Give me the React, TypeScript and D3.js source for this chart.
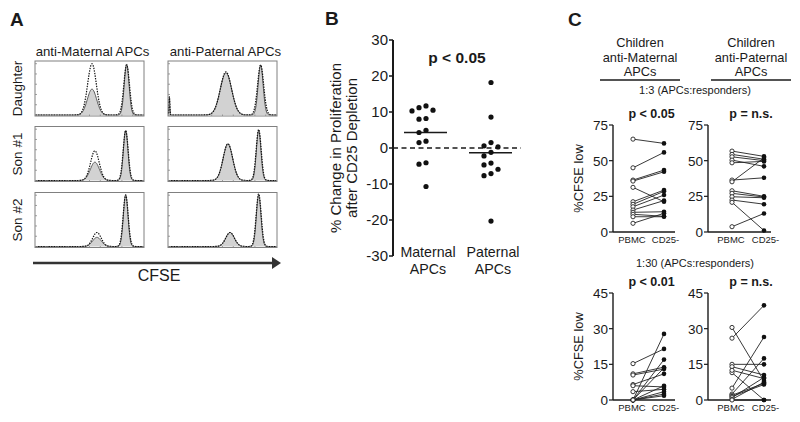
import React from 'react';
import * as d3 from 'd3';

const FONT = '"Liberation Sans", Arial, Helvetica, sans-serif';
const INK = '#1a1a1a';

// ---------------- Panel A data ----------------
const histColTitles = ['anti-Maternal APCs', 'anti-Paternal APCs'];
const histRowTitles = ['Daughter', 'Son #1', 'Son #2'];
// each curve: list of peaks [CFSE channel (0-100), relative count (0-1), spread]
const histSolid = [
  [[[52.3, 0.48, 4.3], [84.4, 0.95, 2.2]], [[0.8, 0.4, 0.35], [53.2, 0.78, 5.3], [85.3, 0.93, 2.3]]],
  [[[55.0, 0.34, 4.2], [83.5, 0.93, 2.1]], [[55.0, 0.68, 4.4], [83.5, 0.93, 2.1]]],
  [[[56.9, 0.17, 4.0], [83.5, 0.96, 2.1]], [[57.0, 0.26, 4.0], [83.5, 0.96, 2.1]]],
];
const histDotted = [
  [[[52.3, 0.95, 4.0], [84.4, 0.93, 2.6]], [[0.8, 0.4, 0.35], [53.2, 0.8, 5.2], [85.3, 0.93, 2.8]]],
  [[[55.0, 0.55, 4.0], [83.5, 0.93, 2.3]], [[55.0, 0.68, 4.4], [83.5, 0.95, 2.3]]],
  [[[56.9, 0.26, 3.9], [83.5, 0.96, 2.3]], [[57.0, 0.26, 4.0], [83.5, 0.98, 2.3]]],
];
const histAxisLabel = 'CFSE';

// ---------------- Panel B data ----------------
const bCategories = [['Maternal', 'APCs'], ['Paternal', 'APCs']];
const bMaternal = [11.7, 11.2, 10.5, 10.3, 8.2, 8.0, 4.9, 4.3, 1.9, 1.5, -4.1, -4.5, -10.7];
const bPaternal = [18.2, 8.6, 1.5, 0.6, 0.3, -1.2, -2.2, -4.2, -4.7, -5.9, -7.1, -7.7, -20.3];
const bCenterLines = [4.3, -1.3];
const bTicks = [30, 20, 10, 0, -10, -20, -30];
const bYLabel = ['% Change in Proliferation', 'after CD25 Depletion'];
const bPValue = 'p < 0.05';

// ---------------- Panel C data ----------------
const cHeaders = [['Children', 'anti-Maternal', 'APCs'], ['Children', 'anti-Paternal', 'APCs']];
const cRatios = ['1:3 (APCs:responders)', '1:30 (APCs:responders)'];
const cConditions = ['PBMC', 'CD25-'];
const cUpperTicks = [0, 25, 50, 75];
const cLowerTicks = [0, 15, 30, 45];
const cUpperP = ['p < 0.05', 'p = n.s.'];
const cLowerP = ['p < 0.01', 'p = n.s.'];
const cUpperMatPBMC = [65.1, 45.0, 36.4, 35.7, 31.3, 21.2, 19.4, 17.7, 15.4, 13.8, 12.4, 10.7, 6.1];
const cUpperMatCD25 = [62.1, 55.8, 43.4, 42.2, 21.2, 29.4, 28.5, 25.9, 22.0, 14.2, 11.0, 10.7, 13.1];
const cUpperPatPBMC = [56.7, 54.4, 52.7, 50.4, 48.5, 36.4, 35.2, 28.9, 27.1, 24.7, 22.4, 20.8, 3.7];
const cUpperPatCD25 = [53.0, 51.0, 50.0, 46.0, 49.5, 38.0, 52.0, 25.0, 24.5, 24.0, 19.5, 1.0, 13.0];
const cLowerMatPBMC = [15.3, 11.0, 10.5, 6.5, 6.0, 3.5, 0, 0, 0, 0, 0, 0, 0];
const cLowerMatCD25 = [21.5, 13.8, 13.0, 11.0, 5.5, 4.5, 27.8, 17.0, 13.5, 6.0, 3.5, 2.5, 1.8];
const cLowerPatPBMC = [30.5, 26.0, 15.0, 14.0, 11.5, 12.5, 5.0, 2.5, 2.0, 1.5, 1.0, 0.3, 0];
const cLowerPatCD25 = [8.0, 39.8, 15.0, 10.5, 0, 9.0, 26.5, 17.5, 7.0, 6.5, 9.5, 7.5, 0];
const cYLabel = '%CFSE low';

// ---------------- helpers ----------------
const channels = d3.range(0, 100.001, 0.4);
function density(peaks: number[][], x: number) {
  let s = 0;
  for (const [c, h, w] of peaks) s += h * Math.exp(-((x - c) ** 2) / (2 * w * w));
  return s;
}

function Histogram({ x, y, w, h, solid, dotted }: any) {
  const sx = d3.scaleLinear().domain([0, 100]).range([x + 0.5, x + w - 0.5]);
  const sy = d3.scaleLinear().domain([0, 1]).range([y + h - 1, y]);
  const area = d3
    .area<number>()
    .x((d) => sx(d))
    .y0(sy(0))
    .y1((d) => sy(density(solid, d)))
    .curve(d3.curveBasis);
  const lineSolid = d3
    .line<number>()
    .x((d) => sx(d))
    .y((d) => sy(density(solid, d)))
    .curve(d3.curveBasis);
  const lineDot = d3
    .line<number>()
    .x((d) => sx(d))
    .y((d) => sy(density(dotted, d)))
    .curve(d3.curveBasis);
  const leftTicks = d3.range(0, 1.01, 0.2);
  const botTicks = d3.range(0, 100.1, 10);
  return (
    <g>
      <path d={area(channels) || ''} fill="#d2d2d2" stroke="none" />
      <path d={lineSolid(channels) || ''} fill="none" stroke="#4a4a4a" strokeWidth={0.9} />
      <path d={lineDot(channels) || ''} fill="none" stroke="#111" strokeWidth={1.2} strokeDasharray="1.4,1.2" />
      <rect x={x} y={y} width={w} height={h} fill="none" stroke="#808080" strokeWidth={1} />
      {leftTicks.map((t, i) => (
        <line key={'l' + i} x1={x} x2={x + 2} y1={sy(t * 0.95)} y2={sy(t * 0.95)} stroke="#888" strokeWidth={0.8} />
      ))}
      {botTicks.map((t, i) => (
        <line key={'b' + i} x1={sx(t)} x2={sx(t)} y1={y + h} y2={y + h - 1.5} stroke="#888" strokeWidth={0.8} />
      ))}
    </g>
  );
}

function jitter(values: number[], cx: number, ys: (v: number) => number, step: number, minDist: number) {
  const order = values.map((v, i) => i).sort((a, b) => values[b] - values[a]);
  const placed: { x: number; y: number }[] = [];
  const out: { x: number; y: number }[] = new Array(values.length);
  const slots = [0, -1, 1, -2, 2, -3, 3];
  for (const i of order) {
    const py = ys(values[i]);
    let chosen = cx;
    for (const s of slots) {
      const px = cx + s * step;
      if (placed.every((p) => Math.hypot(p.x - px, p.y - py) >= minDist)) {
        chosen = px;
        break;
      }
    }
    placed.push({ x: chosen, y: py });
    out[i] = { x: chosen, y: py };
  }
  return out;
}

function PairPlot({ axisX, endX, pbmcX, cdX, yTop, yBottom, ticks, pbmc, cd25, pText, yLabel }: any) {
  const maxV = ticks[ticks.length - 1];
  const ys = d3.scaleLinear().domain([0, maxV]).range([yBottom, yTop]);
  const xs = d3.scalePoint<string>().domain(cConditions).range([pbmcX, cdX]);
  return (
    <g fontFamily={FONT}>
      <text x={(pbmcX + cdX) / 2 + 3} y={yTop - 7} textAnchor="middle" fontSize={12.5} fontWeight="bold" fill={INK}>
        {pText}
      </text>
      <line x1={axisX} x2={axisX} y1={yTop} y2={yBottom} stroke={INK} strokeWidth={1.4} />
      <line x1={axisX} x2={endX} y1={yBottom} y2={yBottom} stroke={INK} strokeWidth={1.4} />
      {ticks.map((t: number) => (
        <g key={t}>
          <line x1={axisX - 4} x2={axisX} y1={ys(t)} y2={ys(t)} stroke={INK} strokeWidth={1.2} />
          <text x={axisX - 5} y={ys(t)} dy="0.36em" textAnchor="end" fontSize={13.5} fill={INK}>
            {t}
          </text>
        </g>
      ))}
      {cConditions.map((c, i) => (
        <text key={c} x={xs(c)! + (i === 0 ? -1 : 1.5)} y={yBottom + 10.5} textAnchor="middle" fontSize={9.5} fill={INK}>
          {c}
        </text>
      ))}
      {pbmc.map((v: number, i: number) => (
        <line key={'ln' + i} x1={xs(cConditions[0])} x2={xs(cConditions[1])} y1={ys(v)} y2={ys(cd25[i])} stroke="#222" strokeWidth={0.9} />
      ))}
      {pbmc.map((v: number, i: number) => (
        <circle key={'o' + i} cx={xs(cConditions[0])} cy={ys(v)} r={2.1} fill="#fff" stroke="#222" strokeWidth={0.9} />
      ))}
      {cd25.map((v: number, i: number) => (
        <circle key={'f' + i} cx={xs(cConditions[1])} cy={ys(v)} r={2.3} fill="#111" />
      ))}
      {yLabel && (
        <text
          transform={`translate(${axisX - 30},${(yTop + yBottom) / 2}) rotate(-90)`}
          textAnchor="middle"
          fontSize={12.8}
          fill={INK}
        >
          {yLabel}
        </text>
      )}
    </g>
  );
}

export default function App() {
  // Panel A layout
  const colX = [35, 168];
  const rowY = [61, 126.5, 192.5];
  const boxW = 109;
  const boxH = 55;

  // Panel B
  const yB = d3.scaleLinear().domain([-30, 30]).range([256, 40]);
  const bAxisX = 393;
  const bCenters = [426, 491];
  const matPts = jitter(bMaternal, bCenters[0], yB, 7, 6.2);
  const patPts = jitter(bPaternal, bCenters[1], yB, 7, 6.2);

  return (
    <svg width={800} height={422} style={{ position: 'absolute', left: 0, top: 0, background: '#fff' }} fontFamily={FONT}>
      <rect width={800} height={422} fill="#fff" />
      {/* ---------- Panel A ---------- */}
      <text x={10} y={26} fontSize={19} fontWeight="bold" fill={INK}>A</text>
      {histColTitles.map((t, c) => (
        <text key={t} x={colX[c] + boxW / 2 + 3} y={56} textAnchor="middle" fontSize={13.2} fill={INK}>
          {t}
        </text>
      ))}
      {histRowTitles.map((t, r) => (
        <text
          key={t}
          transform={`translate(22,${rowY[r] + boxH / 2}) rotate(-90)`}
          textAnchor="middle"
          fontSize={13.5}
          fill={INK}
        >
          {t}
        </text>
      ))}
      {histRowTitles.map((_, r) =>
        histColTitles.map((__, c) => (
          <Histogram
            key={r + '-' + c}
            x={colX[c]}
            y={rowY[r]}
            w={boxW}
            h={boxH}
            solid={histSolid[r][c]}
            dotted={histDotted[r][c]}
          />
        ))
      )}
      <line x1={33} x2={273} y1={263} y2={263} stroke="#333" strokeWidth={2.5} />
      <polygon points="272,257 281,263 272,269" fill="#333" />
      <text x={159} y={281} textAnchor="middle" fontSize={16} fill={INK}>{histAxisLabel}</text>

      {/* ---------- Panel B ---------- */}
      <text x={325} y={25} fontSize={19} fontWeight="bold" fill={INK}>B</text>
      <line x1={bAxisX} x2={bAxisX} y1={yB(30)} y2={yB(-30)} stroke={INK} strokeWidth={2} />
      {bTicks.map((t) => (
        <g key={t}>
          <line x1={bAxisX - 4} x2={bAxisX} y1={yB(t)} y2={yB(t)} stroke={INK} strokeWidth={1.5} />
          <text x={bAxisX - 5} y={yB(t)} dy="0.36em" textAnchor="end" fontSize={15} fill={INK}>
            {t}
          </text>
        </g>
      ))}
      <line x1={bAxisX} x2={521} y1={yB(0)} y2={yB(0)} stroke={INK} strokeWidth={1.4} strokeDasharray="5,3.5" />
      <text x={457} y={63} textAnchor="middle" fontSize={15.5} fontWeight="bold" fill={INK}>{bPValue}</text>
      {bYLabel.map((t, i) => (
        <text
          key={t}
          transform={`translate(${341 + i * 15.5},148) rotate(-90)`}
          textAnchor="middle"
          fontSize={15}
          fill={INK}
        >
          {t}
        </text>
      ))}
      {bCenterLines.map((v, i) => (
        <line key={i} x1={bCenters[i] - 22} x2={bCenters[i] + 21} y1={yB(v)} y2={yB(v)} stroke={INK} strokeWidth={1.4} />
      ))}
      {[matPts, patPts].map((pts, k) =>
        pts.map((p, i) => <circle key={k + '-' + i} cx={p.x} cy={p.y} r={2.6} fill="#111" />)
      )}
      {bCategories.map((lines, i) =>
        lines.map((t, j) => (
          <text key={i + '-' + j} x={bCenters[i] + 2} y={257 + j * 17} textAnchor="middle" fontSize={14.2} fill={INK}>
            {t}
          </text>
        ))
      )}

      {/* ---------- Panel C ---------- */}
      <text x={568} y={26} fontSize={19} fontWeight="bold" fill={INK}>C</text>
      {cHeaders.map((lines, i) => {
        const cx = i === 0 ? 640 : 751;
        return (
          <g key={i}>
            {lines.map((t, j) => (
              <text key={j} x={cx} y={47 + j * 14.5} textAnchor="middle" fontSize={12.8} fill={INK}>
                {t}
              </text>
            ))}
            <line x1={cx - 40} x2={cx + 40} y1={80} y2={80} stroke={INK} strokeWidth={1.5} />
          </g>
        );
      })}
      <text x={695} y={94} textAnchor="middle" fontSize={11} fill={INK}>{cRatios[0]}</text>
      <text x={695} y={267} textAnchor="middle" fontSize={11} fill={INK}>{cRatios[1]}</text>

      <PairPlot axisX={613} endX={675} pbmcX={633} cdX={664} yTop={125} yBottom={232} ticks={cUpperTicks}
        pbmc={cUpperMatPBMC} cd25={cUpperMatCD25} pText={cUpperP[0]} yLabel={cYLabel} />
      <PairPlot axisX={708} endX={771} pbmcX={732} cdX={764} yTop={125} yBottom={232} ticks={cUpperTicks}
        pbmc={cUpperPatPBMC} cd25={cUpperPatCD25} pText={cUpperP[1]} />
      <PairPlot axisX={613} endX={675} pbmcX={633} cdX={664} yTop={293} yBottom={400} ticks={cLowerTicks}
        pbmc={cLowerMatPBMC} cd25={cLowerMatCD25} pText={cLowerP[0]} yLabel={cYLabel} />
      <PairPlot axisX={708} endX={771} pbmcX={732} cdX={764} yTop={293} yBottom={400} ticks={cLowerTicks}
        pbmc={cLowerPatPBMC} cd25={cLowerPatCD25} pText={cLowerP[1]} />
    </svg>
  );
}
